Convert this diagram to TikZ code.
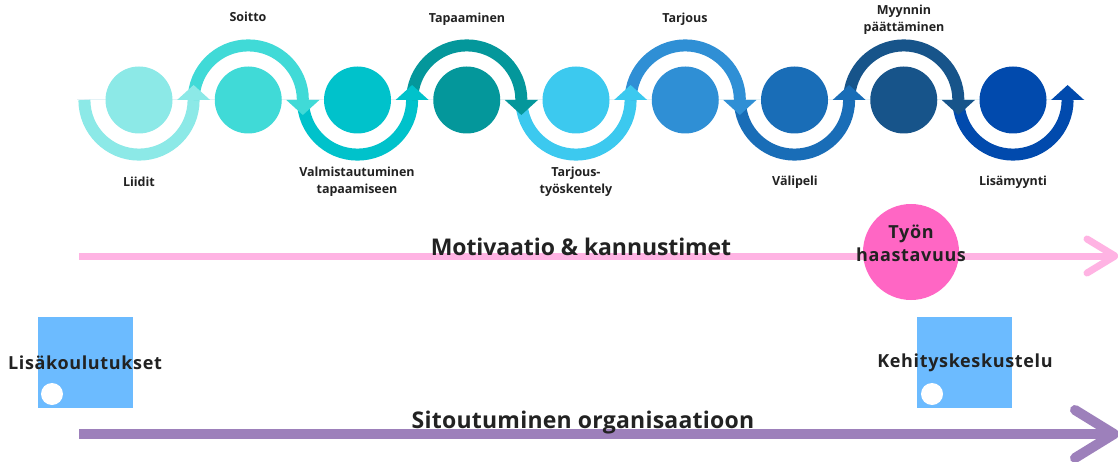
\documentclass[tikz,border=0pt]{standalone}
\usepackage{fontspec}
\setmainfont{Open Sans}
\newfontfamily\smallfont{Open Sans}[LetterSpace=-0.5]
\newfontfamily\midfont{Open Sans}[LetterSpace=3.6]
\newfontfamily\bigfont{Open Sans}[LetterSpace=-0.4]
\newfontfamily\bigfontb{Open Sans}[LetterSpace=1]
\usetikzlibrary{calc}
\definecolor{c1}{HTML}{8CE9E7}
\definecolor{c2}{HTML}{40DAD7}
\definecolor{c3}{HTML}{00C2CB}
\definecolor{c4}{HTML}{04979B}
\definecolor{c5}{HTML}{3CC9EF}
\definecolor{c6}{HTML}{2F8FD5}
\definecolor{c7}{HTML}{196DB7}
\definecolor{c8}{HTML}{17548A}
\definecolor{c9}{HTML}{014AAD}
\definecolor{pinkline}{HTML}{FFB3E3}
\definecolor{pinkdot}{HTML}{FF66C4}
\definecolor{purpleline}{HTML}{9D80BB}
\definecolor{sqblue}{HTML}{6CBBFF}
\definecolor{txt}{HTML}{222222}
\definecolor{faint}{HTML}{E4F2F6}
\begin{document}
\begin{tikzpicture}[x=1pt,y=1pt,
  lab/.style={text=txt, font=\smallfont\bfseries\fontsize{12.5}{17}\selectfont, align=center, inner sep=0pt},
  big/.style={text=txt, font=\bigfont\bfseries\fontsize{23}{27}\selectfont, inner sep=0pt, anchor=base},
  bigb/.style={text=txt, font=\bigfontb\bfseries\fontsize{23}{27}\selectfont, inner sep=0pt, anchor=base},
  mid/.style={text=txt, font=\midfont\bfseries\fontsize{18}{23}\selectfont, align=center, inner sep=0pt},
  dot/.style={circle, minimum size=67pt, inner sep=0pt},
  band/.style={line width=12pt},
  shaft/.style={line cap=butt},
  chevron/.style={line cap=round, line join=round},
  sqbox/.style={rectangle, fill=sqblue, minimum width=95pt, minimum height=91pt, inner sep=0pt},
  hole/.style={circle, fill=white, minimum size=22pt, inner sep=0pt},
]
\useasboundingbox (0,0) rectangle (1118,461);
\fill[white] (0,0) rectangle (1118,461);

% faint guide line
\coordinate (gl) at (77,361);
\coordinate (gr) at (1085,361);
\draw[faint, line width=1pt] (gl) -- (gr);

% circles (nodes)
\foreach \i/\col in {1/c1,2/c2,3/c3,4/c4,5/c5,6/c6,7/c7,8/c8,9/c9}{
  \node[dot, fill=\col] (n\i) at ({139+109.25*(\i-1)},361) {};
}

% arcs
\foreach \i/\col in {1/c1,3/c3,5/c5,7/c7,9/c9}{
  \draw[band, \col] ($(n\i.center)+(-54.6,0)$) arc[start angle=180, end angle=360, radius=54.6];
}
\foreach \i/\col in {2/c2,4/c4,6/c6,8/c8}{
  \draw[band, \col] ($(n\i.center)+(-54.6,0)$) arc[start angle=180, end angle=0, radius=54.6];
}
% arrowheads
\foreach \i/\col in {1/c1,3/c3,5/c5,7/c7,9/c9}{
  \fill[\col, shift={(n\i.center)}] (38.1,0) -- (71.1,0) -- (54.6,15) -- cycle;
}
\foreach \i/\col in {2/c2,4/c4,6/c6,8/c8}{
  \fill[\col, shift={(n\i.center)}] (38.1,0) -- (71.1,0) -- (54.6,-15) -- cycle;
}

% step labels
\node[lab] (l1) at (139,279) {Liidit};
\node[lab] (l2) at (248,444) {Soitto};
\node[lab] (l3) at (357,279.5) {Valmistautuminen\\tapaamiseen};
\node[lab] (l4) at (467,442) {Tapaaminen};
\node[lab] (l5) at (576,279.5) {Tarjous-\\työskentely};
\node[lab] (l6) at (685,442) {Tarjous};
\node[lab] (l7) at (795,279) {Välipeli};
\node[lab] (l8) at (904,441.5) {Myynnin\\päättäminen};
\node[lab] (l9) at (1013,279) {Lisämyynti};

% motivation arrow
\coordinate (ms) at (79,205);
\coordinate (me) at (1112,205);
\coordinate (mt) at (1115,205);
\coordinate (ma) at (1087,222);
\coordinate (mb) at (1087,188);
\draw[pinkline, line width=7pt, shaft] (ms) -- (me);
\draw[pinkline, line width=7pt, chevron] (ma) -- (mt) -- (mb);
\node[big] (mot) at (581,206) {Motivaatio \& kannustimet};

% pink circle
\node[circle, fill=pinkdot, minimum size=96pt, inner sep=0pt] (tyo) at (911,209) {};
\node[mid] (tyot) at (911,217.5) {Työn\\haastavuus};

% squares
\node[sqbox] (sqL) at (85.5,98.5) {};
\node[sqbox] (sqR) at (964.5,98.5) {};
\node[hole] (hL) at (52,67) {};
\node[hole] (hR) at (932,67) {};
\node[mid] (lisa) at (85,98) {Lisäkoulutukset};
\node[mid] (kehi) at (965,98) {Kehityskeskustelu};

% commitment arrow
\coordinate (ss) at (79,27);
\coordinate (se) at (1110,27);
\coordinate (st) at (1114,27);
\coordinate (sa) at (1075,51);
\coordinate (sb) at (1075,3);
\draw[purpleline, line width=10pt, shaft] (ss) -- (se);
\draw[purpleline, line width=10pt, chevron] (sa) -- (st) -- (sb);
\node[bigb] (sit) at (583,33) {Sitoutuminen organisaatioon};
\end{tikzpicture}
\end{document}
